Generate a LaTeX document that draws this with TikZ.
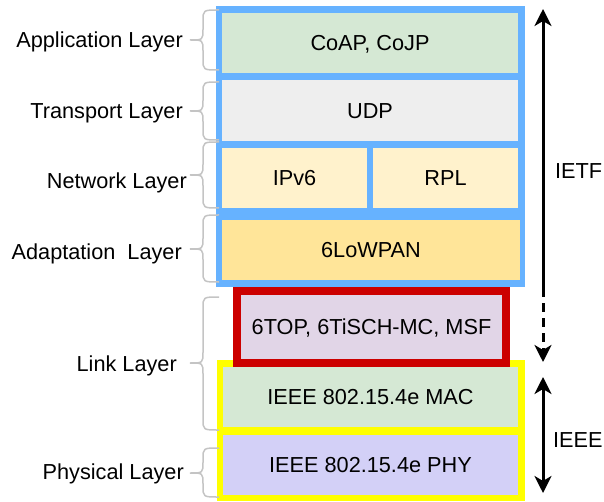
\documentclass[tikz,border=0pt]{standalone}
\usepackage{fontspec}
\setmainfont{Liberation Sans}
\usetikzlibrary{arrows.meta}

\definecolor{ietfblue}{HTML}{66B2FF}
\definecolor{ieeeyellow}{HTML}{FFFF00}
\definecolor{tischred}{HTML}{CC0000}
\definecolor{appgreen}{HTML}{D5E8D4}
\definecolor{udpgray}{HTML}{EEEEEE}
\definecolor{netyellow}{HTML}{FFF2CC}
\definecolor{lowpanyellow}{HTML}{FFE599}
\definecolor{tischpurple}{HTML}{E1D5E7}
\definecolor{phypurple}{HTML}{D3D0F7}
\definecolor{bracegray}{HTML}{C4C4C4}

\begin{document}
\begin{tikzpicture}[x=1pt,y=-1pt,>={Stealth[length=17pt,width=17pt,inset=5pt]},
  font=\fontsize{21.7}{26}\selectfont,
  layer box/.style={rectangle,inner sep=0pt,text height=15.5pt,text depth=0pt},
  layer label/.style={anchor=east,inner sep=0pt,text height=15.5pt,text depth=0pt},
  side brace/.style={draw=bracegray,line width=1.5pt},
  long arrow/.style={line width=3pt}]

\useasboundingbox (0,0) rectangle (604,502);

% IETF stack
\fill[ietfblue] (216,6) rectangle (525,287);
\node[layer box, fill=appgreen, minimum width=296pt, minimum height=60pt] (coap) at (370,43) {CoAP, CoJP};
\node[layer box, fill=udpgray, minimum width=296pt, minimum height=61pt] (udp) at (370,110.5) {UDP};
\node[layer box, fill=netyellow, minimum width=145pt, minimum height=60pt] (ipv6) at (294.5,178) {IPv6};
\node[layer box, fill=netyellow, minimum width=145pt, minimum height=60pt] (rpl) at (445.5,178) {RPL};
\node[layer box, fill=lowpanyellow, minimum width=298pt, minimum height=60pt] (lowpan) at (371,250) {6LoWPAN};

% IEEE stack
\fill[ieeeyellow] (217,360) rectangle (525,501);
\node[layer box, fill=appgreen, minimum width=295pt, minimum height=60pt] (mac) at (370.5,397) {IEEE 802.15.4e MAC};
\node[layer box, fill=phypurple, minimum width=295pt, minimum height=60pt] (phy) at (370.5,465) {IEEE 802.15.4e PHY};
\node[layer box, draw=tischred, line width=8pt, fill=tischpurple, minimum width=269pt, minimum height=72pt] (tisch) at (371.5,327) {6TOP, 6TiSCH-MC, MSF};

% layer names
\node[layer label] (applabel) at (183,40) {Application Layer};
\node[layer label] (translabel) at (183,111) {Transport Layer};
\node[layer label] (netlabel) at (187,181) {Network Layer};
\node[layer label] (adaptlabel) at (182,252) {Adaptation\ \ Layer};
\node[layer label] (linklabel) at (177,364) {Link Layer};
\node[layer label] (phylabel) at (184,472) {Physical Layer};

\foreach \t/\m/\b in {10/40/70, 82/111/140, 142/175/208, 215/249/282, 297/363/430, 448/473/497}
  \draw[side brace] (219,\t) .. controls (203,\t) .. (203,\t+11) -- (203,\m-11)
    .. controls (203,\m) .. (190,\m) .. controls (203,\m) .. (203,\m+11)
    -- (203,\b-11) .. controls (203,\b) .. (219,\b);

% scope arrows
\coordinate (ietftop) at (543,9);
\coordinate (ietfmid) at (543,288);
\coordinate (ietfend) at (543,362);
\coordinate (ieeetop) at (543,377);
\coordinate (ieeeend) at (543,493);
\draw[long arrow,->] (ietfmid) -- (ietftop);
\draw[long arrow,->,dash pattern=on 9pt off 6pt] (ietfmid) -- (ietfend);
\draw[long arrow,<->] (ieeetop) -- (ieeeend);
\node[anchor=west,inner sep=0pt,text height=15.5pt,text depth=0pt] (ietf) at (555,171) {IETF};
\node[anchor=west,inner sep=0pt,text height=15.5pt,text depth=0pt] (ieee) at (553,440) {IEEE};

\end{tikzpicture}
\end{document}
